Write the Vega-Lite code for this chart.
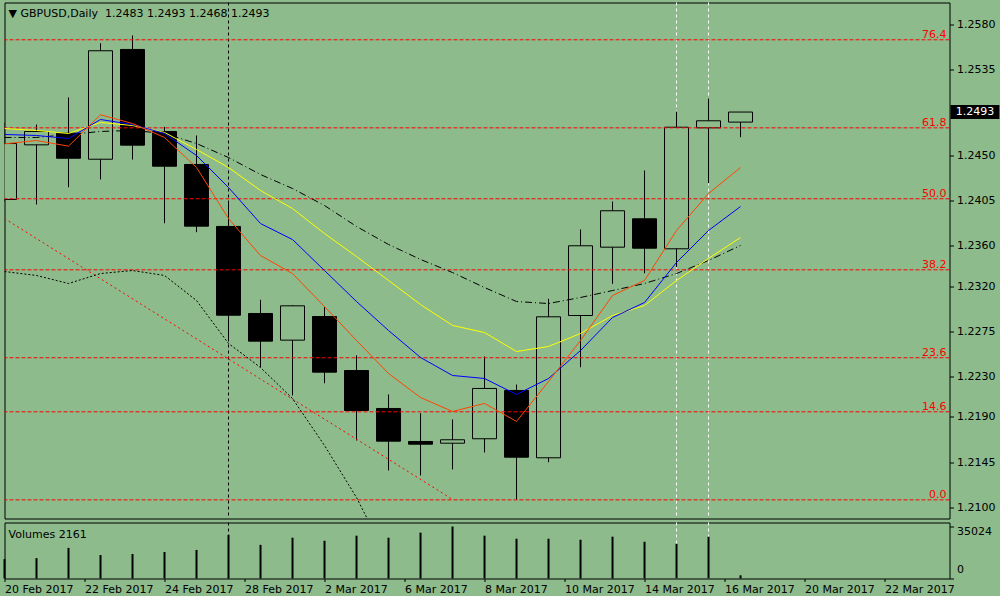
{
  "$schema": "https://vega.github.io/schema/vega-lite/v6.json",
  "background": "#8DBB8B",
  "padding": {"left": 2.5, "top": 1.5, "right": 0, "bottom": 0},
  "spacing": 2,
  "config": {
    "font": "DejaVu Sans",
    "view": {"stroke": "black", "strokeWidth": 1},
    "scale": {"continuousPadding": 0},
    "axis": {"labelFont": "DejaVu Sans", "labelFontSize": 11, "labelColor": "black", "tickColor": "black", "grid": false, "domain": false},
    "text": {"font": "DejaVu Sans"}
  },
  "datasets": {
    "bars": [
      {"k":0,"o":1.24061,"h":1.24826,"l":1.2404,"c":1.24617,"v":13047,"mo":1.24614,"mb":1.24707,"my":1.24766,"mk":1.24677,"dk":1.23345},
      {"k":1,"o":1.24604,"h":1.24806,"l":1.24011,"c":1.24737,"v":13734,"mo":1.24647,"mb":1.24697,"my":1.24747,"mk":1.24677,"dk":1.23306},
      {"k":2,"o":1.2472,"h":1.25075,"l":1.24183,"c":1.24471,"v":20601,"mo":1.24591,"mb":1.24667,"my":1.24717,"mk":1.24707,"dk":1.23226},
      {"k":3,"o":1.24461,"h":1.25614,"l":1.2426,"c":1.25539,"v":15794,"mo":1.24903,"mb":1.24856,"my":1.24826,"mk":1.24737,"dk":1.23325},
      {"k":4,"o":1.25552,"h":1.25691,"l":1.24458,"c":1.24601,"v":16481,"mo":1.24816,"mb":1.24806,"my":1.24796,"mk":1.24747,"dk":1.23355},
      {"k":5,"o":1.24737,"h":1.24783,"l":1.23825,"c":1.24392,"v":17854,"mo":1.24677,"mb":1.24717,"my":1.24727,"mk":1.24717,"dk":1.23306},
      {"k":6,"o":1.24409,"h":1.24697,"l":1.23736,"c":1.23796,"v":19228,"mo":1.24379,"mb":1.24498,"my":1.24558,"mk":1.24617,"dk":1.23057},
      {"k":7,"o":1.23793,"h":1.24041,"l":1.2266,"c":1.22911,"v":29322,"mo":1.23872,"mb":1.2418,"my":1.24379,"mk":1.24478,"dk":1.2263},
      {"k":8,"o":1.22928,"h":1.23064,"l":1.22394,"c":1.22653,"v":22661,"mo":1.23504,"mb":1.23822,"my":1.2415,"mk":1.24309,"dk":1.22391},
      {"k":9,"o":1.22663,"h":1.2301,"l":1.22113,"c":1.23004,"v":27468,"mo":1.23325,"mb":1.23663,"my":1.23971,"mk":1.2417,"dk":1.22083},
      {"k":10,"o":1.22898,"h":1.22991,"l":1.22235,"c":1.22345,"v":25408,"mo":1.22997,"mb":1.23355,"my":1.23723,"mk":1.24001,"dk":1.21616},
      {"k":11,"o":1.22361,"h":1.22511,"l":1.21666,"c":1.21964,"v":28841,"mo":1.2266,"mb":1.23047,"my":1.23494,"mk":1.23793,"dk":1.21099},
      {"k":12,"o":1.21984,"h":1.22123,"l":1.21368,"c":1.21659,"v":27468,"mo":1.22332,"mb":1.22759,"my":1.23256,"mk":1.23614,"dk":1.20473},
      {"k":13,"o":1.21656,"h":1.21937,"l":1.21318,"c":1.21629,"v":30902,"mo":1.22093,"mb":1.22491,"my":1.23017,"mk":1.23465,"dk":null},
      {"k":14,"o":1.21639,"h":1.21875,"l":1.21378,"c":1.21673,"v":35024,"mo":1.21954,"mb":1.22312,"my":1.22809,"mk":1.23335,"dk":null},
      {"k":15,"o":1.21683,"h":1.22501,"l":1.21547,"c":1.22183,"v":28841,"mo":1.22034,"mb":1.22282,"my":1.22739,"mk":1.23186,"dk":null},
      {"k":16,"o":1.22163,"h":1.22222,"l":1.21079,"c":1.215,"v":26781,"mo":1.21855,"mb":1.22123,"my":1.2255,"mk":1.23047,"dk":null},
      {"k":17,"o":1.21494,"h":1.23074,"l":1.2145,"c":1.22895,"v":26781,"mo":1.22252,"mb":1.22282,"my":1.226,"mk":1.23027,"dk":null},
      {"k":18,"o":1.22908,"h":1.23763,"l":1.22394,"c":1.23601,"v":26095,"mo":1.2266,"mb":1.2256,"my":1.22729,"mk":1.23087,"dk":null},
      {"k":19,"o":1.23587,"h":1.24041,"l":1.23223,"c":1.23949,"v":28155,"mo":1.23107,"mb":1.22888,"my":1.22908,"mk":1.23156,"dk":null},
      {"k":20,"o":1.23869,"h":1.24349,"l":1.23328,"c":1.23577,"v":24721,"mo":1.23256,"mb":1.23037,"my":1.23007,"mk":1.23226,"dk":null},
      {"k":21,"o":1.23571,"h":1.24935,"l":1.23388,"c":1.24779,"v":23348,"mo":1.23753,"mb":1.23435,"my":1.23256,"mk":1.23325,"dk":null},
      {"k":22,"o":1.24773,"h":1.25065,"l":1.24223,"c":1.24843,"v":28155,"mo":1.2412,"mb":1.23753,"my":1.23475,"mk":1.23455,"dk":null},
      {"k":23,"o":1.2483,"h":1.2493,"l":1.2468,"c":1.2493,"v":2161,"mo":1.24379,"mb":1.23991,"my":1.23683,"mk":1.23604,"dk":null}
    ],
    "fib": [
      {"lvl":"76.4","p":1.25648},
      {"lvl":"61.8","p":1.24773},
      {"lvl":"50.0","p":1.24068},
      {"lvl":"38.2","p":1.23362},
      {"lvl":"23.6","p":1.22488},
      {"lvl":"14.6","p":1.21951},
      {"lvl":"0.0","p":1.21076}
    ],
    "trend": [
      {"k":0,"p":1.23872},
      {"k":13.97,"p":1.21086}
    ],
    "vlines": [
      {"k":7,"kind":"black"},
      {"k":21,"kind":"white"},
      {"k":22,"kind":"white"}
    ],
    "last": [{"p":1.2493,"txt":"1.2493"}],
    "head": [{"t":"▼ GBPUSD,Daily\u00a0 1.2483 1.2493 1.2468 1.2493"}],
    "volhead": [{"t":"Volumes 2161"}]
  },
  "vconcat": [
    {
      "width": 945,
      "height": 516,
      "layer": [
        {
          "data": {"name": "vlines"},
          "mark": {"type": "rule", "strokeDash": [3, 3], "strokeWidth": 1},
          "encoding": {
            "x": {"field": "k", "type": "quantitative", "scale": {"domain": [0, 29.53], "nice": false, "zero": false, "padding": 0}, "axis": null},
            "color": {"field": "kind", "type": "nominal", "scale": {"domain": ["black", "white"], "range": ["black", "white"]}, "legend": null}
          }
        },
        {
          "data": {"name": "bars"},
          "mark": {"type": "rule", "color": "black", "strokeWidth": 1, "clip": true},
          "encoding": {
            "x": {"field": "k", "type": "quantitative", "scale": {"domain": [0, 29.53], "nice": false, "zero": false, "padding": 0}, "axis": null},
            "y": {"field": "l", "type": "quantitative", "title": null, "scale": {"domain": [1.208906, 1.260186], "nice": false, "zero": false, "padding": 0},
                  "axis": {"orient": "right", "title": null, "values": [1.21, 1.2145, 1.219, 1.223, 1.2275, 1.232, 1.236, 1.2405, 1.245, 1.2535, 1.258], "format": ".4f", "tickSize": 4, "labelPadding": 3, "labelBaseline": "middle"}},
            "y2": {"field": "h"}
          }
        },
        {
          "data": {"name": "bars"},
          "mark": {"type": "bar", "width": 24, "stroke": "black", "strokeWidth": 1, "clip": true},
          "encoding": {
            "x": {"field": "k", "type": "quantitative", "scale": {"domain": [0, 29.53], "nice": false, "zero": false, "padding": 0}, "axis": null},
            "y": {"field": "o", "type": "quantitative", "title": null, "scale": {"domain": [1.208906, 1.260186], "nice": false, "zero": false, "padding": 0}},
            "y2": {"field": "c"},
            "fill": {"condition": {"test": "datum.c < datum.o", "value": "black"}, "value": "#8DBB8B"}
          }
        },
        {
          "data": {"name": "fib"},
          "mark": {"type": "rule", "color": "#ff0000", "strokeDash": [4, 2], "strokeWidth": 1},
          "encoding": {
            "y": {"field": "p", "type": "quantitative", "title": null, "scale": {"domain": [1.208906, 1.260186], "nice": false, "zero": false, "padding": 0}}
          }
        },
        {
          "data": {"name": "trend"},
          "mark": {"type": "line", "color": "#ff0000", "strokeDash": [2, 3], "strokeWidth": 1, "clip": true},
          "encoding": {
            "x": {"field": "k", "type": "quantitative", "scale": {"domain": [0, 29.53], "nice": false, "zero": false, "padding": 0}, "axis": null},
            "y": {"field": "p", "type": "quantitative", "title": null, "scale": {"domain": [1.208906, 1.260186], "nice": false, "zero": false, "padding": 0}}
          }
        },
        {
          "data": {"name": "bars"},
          "mark": {"type": "line", "color": "black", "strokeDash": [2, 2], "strokeWidth": 1, "clip": true},
          "encoding": {
            "x": {"field": "k", "type": "quantitative", "scale": {"domain": [0, 29.53], "nice": false, "zero": false, "padding": 0}, "axis": null},
            "y": {"field": "dk", "type": "quantitative", "title": null, "scale": {"domain": [1.208906, 1.260186], "nice": false, "zero": false, "padding": 0}}
          }
        },
        {
          "data": {"name": "bars"},
          "mark": {"type": "line", "color": "black", "strokeDash": [7, 3, 1, 3], "strokeWidth": 1, "clip": true},
          "encoding": {
            "x": {"field": "k", "type": "quantitative", "scale": {"domain": [0, 29.53], "nice": false, "zero": false, "padding": 0}, "axis": null},
            "y": {"field": "mk", "type": "quantitative", "title": null, "scale": {"domain": [1.208906, 1.260186], "nice": false, "zero": false, "padding": 0}}
          }
        },
        {
          "data": {"name": "bars"},
          "mark": {"type": "line", "color": "#FFFF00", "strokeWidth": 1, "clip": true},
          "encoding": {
            "x": {"field": "k", "type": "quantitative", "scale": {"domain": [0, 29.53], "nice": false, "zero": false, "padding": 0}, "axis": null},
            "y": {"field": "my", "type": "quantitative", "title": null, "scale": {"domain": [1.208906, 1.260186], "nice": false, "zero": false, "padding": 0}}
          }
        },
        {
          "data": {"name": "bars"},
          "mark": {"type": "line", "color": "#0000FF", "strokeWidth": 1, "clip": true},
          "encoding": {
            "x": {"field": "k", "type": "quantitative", "scale": {"domain": [0, 29.53], "nice": false, "zero": false, "padding": 0}, "axis": null},
            "y": {"field": "mb", "type": "quantitative", "title": null, "scale": {"domain": [1.208906, 1.260186], "nice": false, "zero": false, "padding": 0}}
          }
        },
        {
          "data": {"name": "bars"},
          "mark": {"type": "line", "color": "#FF4500", "strokeWidth": 1, "clip": true},
          "encoding": {
            "x": {"field": "k", "type": "quantitative", "scale": {"domain": [0, 29.53], "nice": false, "zero": false, "padding": 0}, "axis": null},
            "y": {"field": "mo", "type": "quantitative", "title": null, "scale": {"domain": [1.208906, 1.260186], "nice": false, "zero": false, "padding": 0}}
          }
        },
        {
          "data": {"name": "fib"},
          "mark": {"type": "text", "color": "#ff0000", "align": "right", "baseline": "alphabetic", "dx": -3, "dy": -2, "fontSize": 11},
          "encoding": {
            "x": {"datum": 29.53, "type": "quantitative", "axis": null},
            "y": {"field": "p", "type": "quantitative", "title": null},
            "text": {"field": "lvl"}
          }
        },
        {
          "data": {"name": "head"},
          "mark": {"type": "text", "color": "black", "align": "left", "baseline": "middle", "dx": 4, "dy": 11, "fontSize": 11},
          "encoding": {
            "x": {"datum": 0, "type": "quantitative", "axis": null},
            "y": {"datum": 1.260186, "type": "quantitative", "title": null},
            "text": {"field": "t"}
          }
        },
        {
          "data": {"name": "last"},
          "mark": {"type": "bar", "height": 14, "color": "black"},
          "encoding": {
            "x": {"datum": 29.56, "type": "quantitative", "axis": null},
            "x2": {"datum": 31.09},
            "y": {"field": "p", "type": "quantitative", "title": null}
          }
        },
        {
          "data": {"name": "last"},
          "mark": {"type": "text", "color": "white", "align": "center", "baseline": "middle", "fontSize": 11},
          "encoding": {
            "x": {"datum": 30.33, "type": "quantitative", "axis": null},
            "y": {"field": "p", "type": "quantitative", "title": null},
            "text": {"field": "txt"}
          }
        }
      ]
    },
    {
      "width": 945,
      "height": 56,
      "layer": [
        {
          "data": {"name": "vlines"},
          "mark": {"type": "rule", "strokeDash": [3, 3], "strokeWidth": 1},
          "encoding": {
            "x": {"field": "k", "type": "quantitative", "title": null, "scale": {"domain": [0, 29.53], "nice": false, "zero": false, "padding": 0},
                  "axis": {"orient": "bottom", "title": null, "values": [0, 2.5, 5, 7.5, 10, 12.5, 15, 17.5, 20, 22.5, 25, 27.5],
                           "labelExpr": "['20 Feb 2017','22 Feb 2017','24 Feb 2017','28 Feb 2017','2 Mar 2017','6 Mar 2017','8 Mar 2017','10 Mar 2017','14 Mar 2017','16 Mar 2017','20 Mar 2017','22 Mar 2017'][round(datum.value/2.5)]",
                           "labelAlign": "left", "labelBaseline": "top", "tickSize": 3, "labelPadding": 2, "labelOverlap": false, "labelFlush": false, "labelBound": false}},
            "color": {"field": "kind", "type": "nominal", "scale": {"domain": ["black", "white"], "range": ["black", "white"]}, "legend": null}
          }
        },
        {
          "data": {"name": "bars"},
          "mark": {"type": "rule", "color": "black", "strokeWidth": 2},
          "encoding": {
            "x": {"field": "k", "type": "quantitative", "title": null, "scale": {"domain": [0, 29.53], "nice": false, "zero": false, "padding": 0}},
            "y": {"field": "v", "type": "quantitative", "title": null, "scale": {"domain": [0, 37716], "nice": false, "zero": false, "padding": 0},
                  "axis": {"orient": "right", "title": null, "values": [0, 35024], "format": "d", "tickSize": 4, "labelPadding": 3,
                           "labelBaseline": {"condition": {"test": "datum.value == 0", "value": "bottom"}, "value": "top"},
                           "labelOffset": {"condition": {"test": "datum.value == 0", "value": -4}, "value": -1}}},
            "y2": {"datum": 0}
          }
        },
        {
          "data": {"name": "volhead"},
          "mark": {"type": "text", "color": "black", "align": "left", "baseline": "middle", "dx": 4, "dy": 12, "fontSize": 11},
          "encoding": {
            "x": {"datum": 0, "type": "quantitative", "title": null},
            "y": {"datum": 37716, "type": "quantitative", "title": null},
            "text": {"field": "t"}
          }
        }
      ]
    }
  ]
}
